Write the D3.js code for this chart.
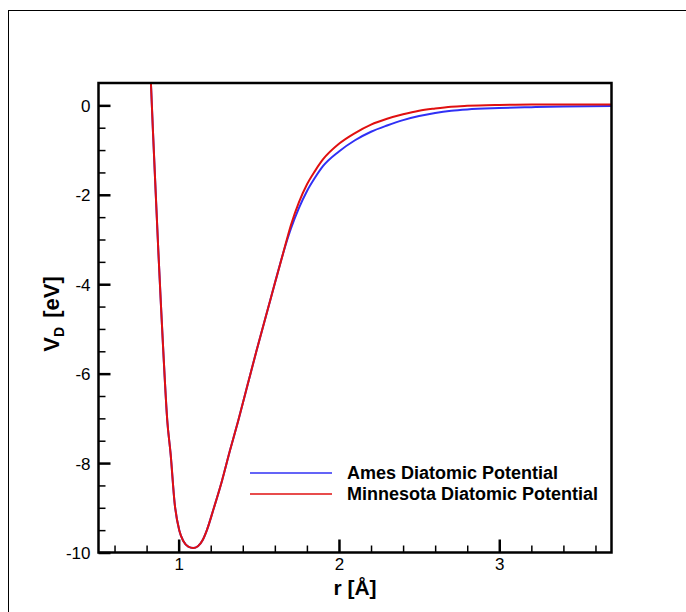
<!DOCTYPE html>
<html>
<head>
<meta charset="utf-8">
<script src="https://cdn.jsdelivr.net/npm/d3@7"></script>
<style>
  body { margin: 0; background: #fff; }
  svg { display: block; font-family: "Liberation Sans", Arial, sans-serif; }
</style>
</head>
<body>
<div class="plot"></div>
<script>
// r [A] sample points, shared by both curves
const rVals = [0.82, 0.827, 0.84, 0.857, 0.873, 0.89, 0.904, 0.929, 0.95, 0.975,
  1.004, 1.03, 1.06, 1.09, 1.12, 1.15, 1.175, 1.22, 1.27, 1.32, 1.372, 1.43,
  1.486, 1.55, 1.60, 1.65, 1.70, 1.75, 1.80, 1.85, 1.90, 2.0, 2.1, 2.2, 2.3,
  2.4, 2.5, 2.6, 2.7, 2.8, 3.0, 3.2, 3.4, 3.7];

const amesV = [1.1, 0.5, -0.6, -1.97, -3.24, -4.5, -5.48, -7.05, -7.8, -8.9,
  -9.51, -9.75, -9.87, -9.90, -9.86, -9.72, -9.51, -9.0, -8.4, -7.72, -7.05, -6.25,
  -5.48, -4.64, -3.98, -3.33, -2.76, -2.30, -1.92, -1.62, -1.36, -1.03, -0.78, -0.59, -0.45,
  -0.33, -0.24, -0.17, -0.12, -0.09, -0.06, -0.04, -0.025, -0.015];

const minnV = [1.1, 0.5, -0.6, -1.97, -3.24, -4.5, -5.48, -7.05, -7.8, -8.9,
  -9.51, -9.75, -9.87, -9.90, -9.86, -9.72, -9.51, -9.0, -8.4, -7.72, -7.05, -6.25,
  -5.48, -4.64, -3.98, -3.33, -2.68, -2.17, -1.77, -1.47, -1.21, -0.86, -0.62, -0.43, -0.3,
  -0.2, -0.12, -0.07, -0.03, -0.01, 0.01, 0.02, 0.02, 0.02];

const seriesNames = ["Ames Diatomic Potential", "Minnesota Diatomic Potential"];
const seriesColors = ["#3030f5", "#e01010"];
const xMajor = [1, 2, 3];
const yMajor = [0, -2, -4, -6, -8, -10];

const W = 686, H = 612;
const box = {left: 98.5, right: 611.5, top: 83, bottom: 552.5};

const svg = d3.select('.plot').append('svg')
  .attr('width', W).attr('height', H);

// outer frame (runs off the right and bottom of the page)
svg.append('rect')
  .attr('x', 8.5).attr('y', 10.5)
  .attr('width', 700).attr('height', 620)
  .attr('fill', 'none').attr('stroke', '#000').attr('stroke-width', 1);

const xScale = d3.scaleLinear().domain([0.5, 3.7]).range([box.left, box.right]);
const yScale = d3.scaleLinear().domain([-10, 0.5]).range([box.bottom, box.top]);

svg.append('defs').append('clipPath').attr('id', 'clip')
  .append('rect')
  .attr('x', box.left).attr('y', box.top)
  .attr('width', box.right - box.left).attr('height', box.bottom - box.top);

// plain hyphen for negatives, like the original
const fmt = d => String(d);

// x axis ticks pointing inward
const xMinor = d3.range(0.6, 3.7, 0.2).filter(v => !xMajor.some(m => Math.abs(m - v) < 1e-6));
svg.append('g')
  .attr('transform', `translate(0,${box.bottom})`)
  .call(d3.axisTop(xScale).tickValues(xMinor).tickSize(7).tickFormat(''))
  .call(g => g.select('.domain').remove())
  .call(g => g.selectAll('line').attr('stroke-width', 1.5));

const xAxis = svg.append('g')
  .attr('transform', `translate(0,${box.bottom})`)
  .call(d3.axisTop(xScale).tickValues(xMajor).tickSize(13).tickFormat(fmt))
  .call(g => g.select('.domain').remove());
xAxis.selectAll('line').attr('stroke-width', 2.5);
xAxis.selectAll('text')
  .attr('y', 17.5).attr('dy', 0)
  .attr('font-size', 17).attr('fill', '#000')
  .attr('font-family', '"Liberation Sans", Arial, sans-serif');

// y axis
const yMinor = d3.range(-9.5, 0.01, 0.5).filter(v => !yMajor.some(m => Math.abs(m - v) < 1e-6));
svg.append('g')
  .attr('transform', `translate(${box.left},0)`)
  .call(d3.axisRight(yScale).tickValues(yMinor).tickSize(7).tickFormat(''))
  .call(g => g.select('.domain').remove())
  .call(g => g.selectAll('line').attr('stroke-width', 1.5));

const yAxis = svg.append('g')
  .attr('transform', `translate(${box.left},0)`)
  .call(d3.axisRight(yScale).tickValues(yMajor).tickSize(12).tickFormat(fmt))
  .call(g => g.select('.domain').remove());
yAxis.selectAll('line').attr('stroke-width', 2.5);
yAxis.selectAll('text')
  .attr('x', -8).attr('dy', '0.35em')
  .attr('text-anchor', 'end')
  .attr('font-size', 17).attr('fill', '#000')
  .attr('font-family', '"Liberation Sans", Arial, sans-serif');

// curves
const line = d3.line()
  .x(d => xScale(d[0]))
  .y(d => yScale(d[1]))
  .curve(d3.curveMonotoneX);

[amesV, minnV].forEach((vals, i) => {
  svg.append('path')
    .datum(rVals.map((r, k) => [r, vals[k]]))
    .attr('clip-path', 'url(#clip)')
    .attr('fill', 'none')
    .attr('stroke', seriesColors[i])
    .attr('stroke-width', 2)
    .attr('d', line);
});

// plot box
svg.append('rect')
  .attr('x', box.left).attr('y', box.top)
  .attr('width', box.right - box.left).attr('height', box.bottom - box.top)
  .attr('fill', 'none').attr('stroke', '#000').attr('stroke-width', 2.5);

// legend
const legend = svg.append('g').attr('transform', 'translate(250,473)');
seriesNames.forEach((name, i) => {
  const row = legend.append('g').attr('transform', `translate(0,${i * 21})`);
  row.append('line')
    .attr('x1', 0).attr('x2', 82)
    .attr('stroke', seriesColors[i]).attr('stroke-width', 1.5);
  row.append('text')
    .attr('x', 97).attr('y', 6)
    .attr('font-size', 18).attr('font-weight', 'bold')
    .text(name);
});

// axis titles
svg.append('text')
  .attr('x', (box.left + box.right) / 2).attr('y', 595)
  .attr('text-anchor', 'middle')
  .attr('font-size', 21).attr('font-weight', 'bold')
  .text('r [Å]');

const yTitle = svg.append('text')
  .attr('transform', 'translate(59,314) rotate(-90)')
  .attr('text-anchor', 'middle')
  .attr('font-size', 22).attr('font-weight', 'bold');
yTitle.append('tspan').text('V');
yTitle.append('tspan').attr('font-size', 14).attr('dy', 5).text('D');
yTitle.append('tspan').attr('dy', -5).attr('dx', 3).text(' [eV]');
</script>
</body>
</html>
